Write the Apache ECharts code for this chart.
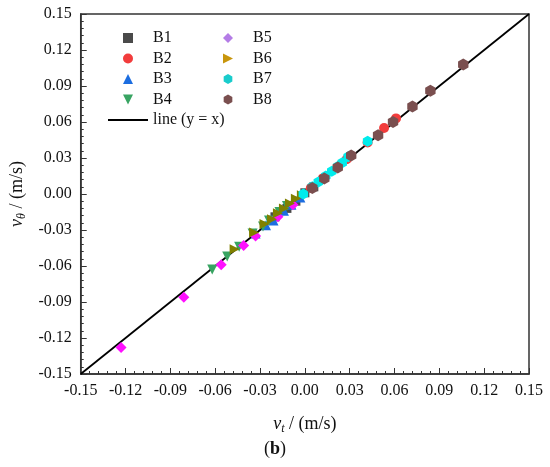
<!DOCTYPE html>
<html>
<head>
    <meta charset="utf-8">
    <title>v_theta vs v_t</title>
    <script src="https://cdn.jsdelivr.net/npm/echarts@6/dist/echarts.min.js"></script>
    <style>
        html, body { margin: 0; padding: 0; background: #fff; }
    </style>
</head>
<body>
    <div id="main" style="width:550px;height:467px"></div>
    <script type="text/javascript">
        // series values: vt (x) and vtheta (y)
        var b1_vt  = [-0.020, -0.012, -0.006, 0.000, 0.006];
        var b1_vth = [-0.019, -0.012, -0.006, 0.001, 0.006];
        var b2_vt  = [0.004, 0.012, 0.028, 0.042, 0.053, 0.061];
        var b2_vth = [0.005, 0.013, 0.029, 0.043, 0.055, 0.063];
        var b3_vt  = [-0.033, -0.026, -0.021, -0.014, -0.009, -0.003];
        var b3_vth = [-0.033, -0.026, -0.022, -0.014, -0.009, -0.003];
        var b4_vt  = [-0.062, -0.052, -0.044, -0.035, -0.028, -0.024, -0.017, -0.012];
        var b4_vth = [-0.063, -0.052, -0.044, -0.033, -0.027, -0.022, -0.015, -0.010];
        var b5_vt  = [-0.123, -0.081, -0.056, -0.041, -0.033, -0.018, -0.008];
        var b5_vth = [-0.128, -0.086, -0.059, -0.043, -0.035, -0.019, -0.009];
        var b6_vt  = [-0.047, -0.034, -0.027, -0.022, -0.018, -0.014, -0.010, -0.006, -0.002];
        var b6_vth = [-0.046, -0.032, -0.025, -0.021, -0.016, -0.012, -0.008, -0.004, -0.001];
        var b7_vt  = [-0.001, 0.005, 0.009, 0.014, 0.018, 0.022, 0.025, 0.029, 0.042];
        var b7_vth = [0.000, 0.006, 0.010, 0.015, 0.019, 0.023, 0.026, 0.031, 0.044];
        var b8_vt  = [0.005, 0.013, 0.022, 0.031, 0.049, 0.059, 0.072, 0.084, 0.106];
        var b8_vth = [0.005, 0.013, 0.022, 0.032, 0.049, 0.060, 0.073, 0.086, 0.108];
        var lineX  = [-0.15, 0.15];   // y = x reference line

        var FONT = '"Liberation Serif", "Times New Roman", serif';

        function pairs(xs, ys) {
            return xs.map(function (x, i) { return [x, ys[i]]; });
        }
        function fmt(v) {
            if (Math.abs(v) < 1e-9) return '0.00';
            return v.toFixed(2);
        }

        var SQR = 'path://M0,0 L1,0 L1,1 L0,1 Z';
        var TRI_U = 'path://M0.5,0 L1,1 L0,1 Z';
        var TRI_D = 'path://M0,0 L1,0 L0.5,1 Z';
        var TRI_R = 'path://M0,0 L1,0.5 L0,1 Z';
        var DIAM = 'path://M0.5,0 L1,0.5 L0.5,1 L0,0.5 Z';
        var HEX = 'path://M0,-1 L0.866,-0.5 L0.866,0.5 L0,1 L-0.866,0.5 L-0.866,-0.5 Z';
        var LINE_ICON = 'path://M0,0 L40,0 L40,1.8 L0,1.8 Z';

        // name, data, symbol, size, plot colour, legend colour
        var groups = [
            ['B1', pairs(b1_vt, b1_vth), SQR, 9, '#4a4a4a', '#4a4a4a'],
            ['B2', pairs(b2_vt, b2_vth), 'circle', 10, '#f23c3c', '#f23c3c'],
            ['B3', pairs(b3_vt, b3_vth), TRI_U, 10, '#1c6de0', '#1c6de0'],
            ['B4', pairs(b4_vt, b4_vth), TRI_D, 10, '#38a462', '#38a462'],
            ['B5', pairs(b5_vt, b5_vth), DIAM, 11, '#ff10ff', '#b47ce6'],
            ['B6', pairs(b6_vt, b6_vth), TRI_R, 10, '#808000', '#c8960c'],
            ['B7', pairs(b7_vt, b7_vth), HEX, 11, '#00ecec', '#19cccc'],
            ['B8', pairs(b8_vt, b8_vth), HEX, 12, '#7a4f4f', '#7a4f4f']
        ];

        var series = [{
            name: 'line (y = x)',
            type: 'line',
            data: pairs(lineX, lineX),
            symbol: 'none',
            itemStyle: { color: '#000' },
            lineStyle: { color: '#000', width: 1.8 },
            z: 1
        }];
        groups.forEach(function (g) {
            series.push({
                name: g[0],
                type: 'scatter',
                data: g[1],
                symbol: g[2],
                symbolSize: g[3],
                symbolKeepAspect: true,
                itemStyle: { color: g[4], opacity: 1 },
                z: 2
            });
        });

        function legendData(names) {
            return names.map(function (n) {
                var g = groups.filter(function (x) { return x[0] === n; })[0];
                return { name: n, icon: g[2], itemStyle: { color: g[5] } };
            });
        }

        var legendText = { fontFamily: FONT, fontSize: 16, color: '#111' };

        function axis(nameText, gap) {
            return {
                type: 'value',
                min: -0.15,
                max: 0.15,
                interval: 0.03,
                name: nameText,
                nameLocation: 'middle',
                nameGap: gap,
                nameTextStyle: {
                    fontFamily: FONT, fontSize: 18, color: '#111',
                    rich: {
                        i: { fontFamily: FONT, fontSize: 18, fontStyle: 'italic', color: '#111' },
                        s: { fontFamily: FONT, fontSize: 12, fontStyle: 'italic', color: '#111', padding: [9, 0, 0, 0] },
                        n: { fontFamily: FONT, fontSize: 18, color: '#111' }
                    }
                },
                axisLine: { show: true, onZero: false, lineStyle: { color: '#333', width: 1.5 } },
                axisTick: { show: true, inside: true, length: 6, lineStyle: { color: '#333', width: 1 } },
                minorTick: { show: true, splitNumber: 5, length: 3, lineStyle: { color: '#333', width: 1 } },
                axisLabel: {
                    fontFamily: FONT, fontSize: 16, color: '#111', margin: 9,
                    formatter: fmt,
                    showMinLabel: true, showMaxLabel: true
                },
                splitLine: { show: false }
            };
        }

        var myChart = echarts.init(document.getElementById('main'));
        myChart.setOption({
            animation: false,
            backgroundColor: '#fff',
            grid: {
                left: 79.5, right: 21, top: 14, bottom: 93,
                show: true, borderColor: '#333', borderWidth: 1.5
            },
            legend: [
                {
                    orient: 'vertical', left: 103, top: 25,
                    itemWidth: 40, itemHeight: 10, itemGap: 4.5,
                    textStyle: legendText,
                    data: legendData(['B1', 'B2', 'B3', 'B4']).concat([
                        { name: 'line (y = x)', icon: LINE_ICON, itemStyle: { color: '#000' } }
                    ])
                },
                {
                    orient: 'vertical', left: 218, top: 25,
                    itemWidth: 40, itemHeight: 10, itemGap: 4.5,
                    textStyle: legendText,
                    data: legendData(['B5', 'B6', 'B7', 'B8'])
                }
            ],
            xAxis: axis('{i|v}{s|t}{n| / (m/s)}', 40),
            yAxis: axis('{i|v}{s|θ}{n| / (m/s)}', 48),
            graphic: [{
                type: 'text',
                left: 'center',
                top: 440,
                style: {
                    text: '({b|b})',
                    fontFamily: FONT, fontSize: 18, fill: '#111',
                    rich: { b: { fontFamily: FONT, fontSize: 18, fontWeight: 'bold', color: '#111' } }
                }
            }],
            series: series
        });
    </script>
</body>
</html>
